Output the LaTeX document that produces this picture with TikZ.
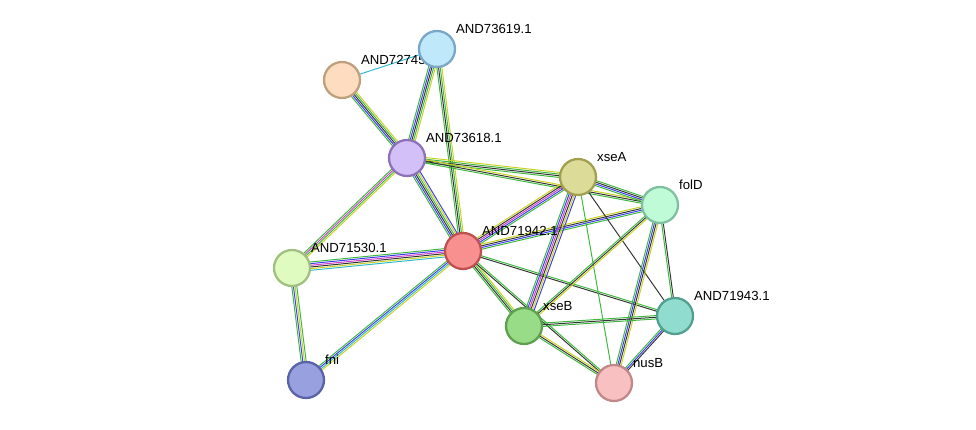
\documentclass[tikz,border=0pt]{standalone}
\usepackage{fontspec}
\setmainfont{Liberation Sans}
\usetikzlibrary{calc}
\definecolor{grn}{HTML}{3CB83C}
\definecolor{blu}{HTML}{3C3CF0}
\definecolor{mag}{HTML}{D040C8}
\definecolor{blk}{HTML}{333333}
\definecolor{ylw}{HTML}{C8D21E}
\definecolor{cyn}{HTML}{30B8D0}
% parallel coloured lines between two proteins
\newcommand\lnk[4]{%
  \foreach \c [count=\i] in {#4}{%
    \pgfmathsetmacro\off{(\i-(#3+1)/2)*0.95}
    \draw[\c, line width=0.55pt] ($(#1)!\off pt!90:(#2)$) -- ($(#2)!\off pt!-90:(#1)$);
  }}
\begin{document}
\begin{tikzpicture}[x=0.02cm, y=-0.02cm]
  \tikzset{prot/.style={circle, draw, line width=1.3pt, minimum size=0.72cm, inner sep=0pt},
  lbl/.style={font=\fontsize{7.5}{9}\selectfont, inner sep=1pt}};
  \useasboundingbox (0,0) rectangle (976,429);

  \foreach \name/\x/\y in {p619/437/49, p745/342/80, p618/407/158, xseA/578/177, folD/660/205,
    p942/463/251, p530/292/268, xseB/524/326, p943/675/316, fni/306/380, nusB/614/383}{
    \coordinate (\name) at (\x,\y);
  }

  \lnk{p745}{p619}{1}{cyn}
  \lnk{p745}{p618}{5}{grn,blu,blk,grn,ylw}
  \lnk{p619}{p618}{5}{grn,blu,blk,grn,ylw}
  \lnk{p619}{p942}{4}{grn,blk,grn,ylw}
  \lnk{p618}{p942}{6}{grn,blu,blk,grn,ylw,blu}
  \lnk{p618}{xseA}{4}{grn,blk,grn,ylw}
  \lnk{p618}{folD}{3}{grn,blk,ylw}
  \lnk{p618}{p530}{4}{grn,mag,grn,ylw}
  \lnk{p942}{p530}{6}{grn,blu,mag,blk,ylw,cyn}
  \lnk{p942}{fni}{4}{grn,blu,cyn,ylw}
  \lnk{p530}{fni}{4}{grn,blu,ylw,grn}
  \lnk{p942}{xseA}{5}{grn,blu,mag,blk,ylw}
  \lnk{p942}{folD}{4}{grn,blu,blk,ylw}
  \lnk{p942}{xseB}{4}{grn,blk,grn,ylw}
  \lnk{p942}{p943}{2}{blk,grn}
  \lnk{p942}{nusB}{2}{blk,grn}
  \lnk{xseA}{xseB}{6}{grn,blu,mag,blk,ylw,blu}
  \lnk{xseA}{folD}{4}{grn,blu,blk,grn}
  \lnk{xseA}{nusB}{1}{grn}
  \lnk{xseA}{p943}{1}{blk}
  \lnk{folD}{xseB}{3}{grn,blk,ylw}
  \lnk{folD}{nusB}{4}{grn,blu,blk,ylw}
  \lnk{folD}{p943}{2}{grn,blk}
  \lnk{xseB}{nusB}{3}{grn,blk,ylw}
  \lnk{xseB}{p943}{3}{grn,blk,grn}
  \lnk{p943}{nusB}{3}{grn,blu,blk}

  \node[prot, fill={rgb,255:red,253;green,220;blue,192}, draw={rgb,255:red,190;green,160;blue,125},
    label={[lbl, anchor=south west, xshift=2pt]45:AND72745.1}] (n745) at (p745) {};
  \foreach \name/\fc/\dc/\txt in {
    p619/C0E8FB/7AA6C8/AND73619.1, p618/D4C0F8/8D72B8/AND73618.1, xseA/DDDB98/A0A050/xseA,
    folD/C0FBD8/80C0A0/folD, p942/F89090/C05050/AND71942.1, p530/E0FBC0/A0C080/AND71530.1,
    xseB/98DC88/5EA050/xseB, p943/90DDD0/50A090/AND71943.1, fni/98A0E0/5A62A8/fni,
    nusB/F8C0C0/C08888/nusB}{
    \definecolor{fc}{HTML}{\fc}\definecolor{dc}{HTML}{\dc}
    \node[prot, fill=fc, draw=dc, label={[lbl, anchor=south west, xshift=2pt]45:\txt}] (n\name) at (\name) {};
  }
\end{tikzpicture}
\end{document}
